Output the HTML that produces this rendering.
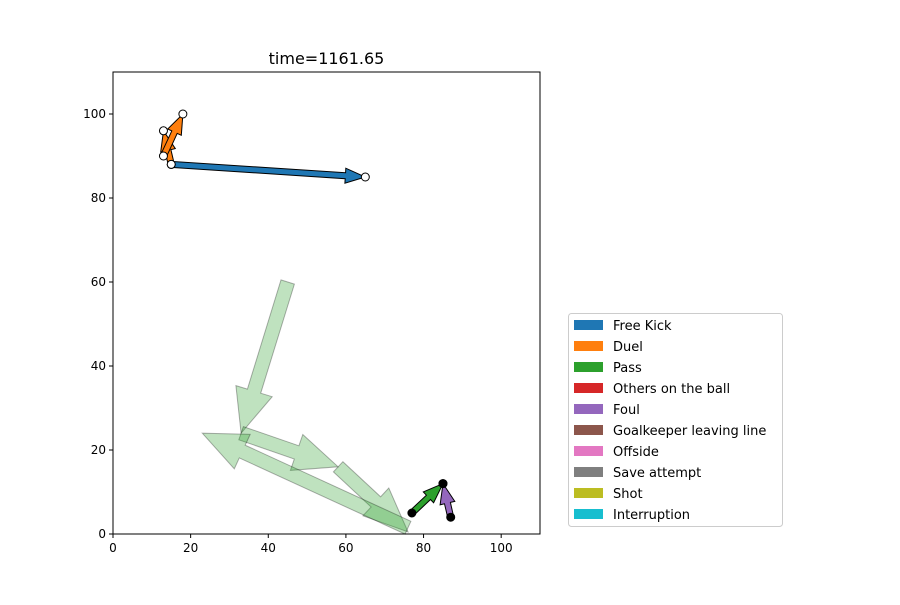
<!DOCTYPE html>
<html><head><meta charset="utf-8"><style>
body{margin:0;background:#fff;}
svg text{font-family:"DejaVu Sans","Liberation Sans",sans-serif;}
</style></head><body>
<svg id="chart" width="900" height="600" xmlns="http://www.w3.org/2000/svg">
<rect width="900" height="600" fill="#fff"/>
<text x="326.5" y="64" font-size="16" text-anchor="middle">time=1161.65</text>
<g id="faded"></g>
<g id="solid"></g>
<g id="axes"></g>
<g id="legend"></g>
</svg>
<script>
// data
const fadedStartX=[45,33,58,76];
const fadedStartY=[60,24,16,1.5];
const fadedEndX=[33,58,76,23];
const fadedEndY=[24,16,0.5,24];
const solidType=["Free Kick","Duel","Duel","Pass","Foul"];
const solidStartX=[15,15,13,77,87];
const solidStartY=[88,88,90,5,4];
const solidEndX=[65,13,18,85,85];
const solidEndY=[85,96,100,12,12];
const solidHollow=[true,true,true,false,false];
const xTicks=[0,20,40,60,80,100];
const yTicks=[0,20,40,60,80,100];
const legendLabels=["Free Kick","Duel","Pass","Others on the ball","Foul","Goalkeeper leaving line","Offside","Save attempt","Shot","Interruption"];
const legendColors=["#1f77b4","#ff7f0e","#2ca02c","#d62728","#9467bd","#8c564b","#e377c2","#7f7f7f","#bcbd22","#17becf"];

const X0=113,X1=540,Y0=534,Y1=72;
const sx=v=>X0+(v/110)*(X1-X0);
const sy=v=>Y0-(v/110)*(Y0-Y1);
const NS="http://www.w3.org/2000/svg";
function mk(tag,attrs,parent){const e=document.createElementNS(NS,tag);for(const k in attrs)e.setAttribute(k,attrs[k]);parent.appendChild(e);return e;}
function arrowPts(x1,y1,x2,y2,w,hw,hl){
 const dx=x2-x1,dy=y2-y1,L=Math.hypot(dx,dy)||1,ux=dx/L,uy=dy/L,px=-uy,py=ux;
 const bx=x2-ux*hl,by=y2-uy*hl;
 const p=[[x1+px*w/2,y1+py*w/2],[bx+px*w/2,by+py*w/2],[bx+px*hw/2,by+py*hw/2],[x2,y2],[bx-px*hw/2,by-py*hw/2],[bx-px*w/2,by-py*w/2],[x1-px*w/2,y1-py*w/2]];
 return p.map(q=>q[0].toFixed(1)+","+q[1].toFixed(1)).join(" ");
}
const fg=document.getElementById('faded');
for(let i=0;i<fadedStartX.length;i++){
 const e=mk('polygon',{points:arrowPts(sx(fadedStartX[i]),sy(fadedStartY[i]),sx(fadedEndX[i]),sy(fadedEndY[i]),14,38,44),fill:"#2ca02c","fill-opacity":"0.3",stroke:"#000","stroke-opacity":"0.3","stroke-width":"1"},fg);
 
 
}
const sg=document.getElementById('solid');
const colorOf=t=>legendColors[legendLabels.indexOf(t)];
for(let i=0;i<solidStartX.length;i++){
 const e=mk('polygon',{points:arrowPts(sx(solidStartX[i]),sy(solidStartY[i]),sx(solidEndX[i]),sy(solidEndY[i]),6,15,20),fill:colorOf(solidType[i]),stroke:"#000","stroke-width":"1"},sg);
 
 
}
for(let i=0;i<solidStartX.length;i++){
 [[solidStartX[i],solidStartY[i]],[solidEndX[i],solidEndY[i]]].forEach(p=>{
  const c=mk('circle',{cx:sx(p[0]),cy:sy(p[1]),r:4,fill:solidHollow[i]?"#fff":"#000",stroke:"#000","stroke-width":"1"},sg);
  
  
 });
}
const ag=document.getElementById('axes');
const fr=mk('rect',{x:X0,y:Y1,width:X1-X0,height:Y0-Y1,fill:"none",stroke:"#000","stroke-width":"1"},ag);


xTicks.forEach(t=>{
 mk('line',{x1:sx(t),x2:sx(t),y1:Y0,y2:Y0+4,stroke:"#000"},ag);
 const tx=mk('text',{x:sx(t),y:Y0+18,"font-size":"12","text-anchor":"middle"},ag);tx.textContent=t;
 
 
});
yTicks.forEach(t=>{
 mk('line',{x1:X0-4,x2:X0,y1:sy(t),y2:sy(t),stroke:"#000"},ag);
 const tx=mk('text',{x:X0-7,y:sy(t)+4,"font-size":"12","text-anchor":"end"},ag);tx.textContent=t;
 
 
});
const lg=document.getElementById('legend');
const box=mk('rect',{x:568.5,y:313.5,width:214,height:213,rx:3,fill:"#fff",stroke:"#ccc"},lg);


legendLabels.forEach((l,i)=>{
 const y=320+i*21;
 const r=mk('rect',{x:574,y:y,width:29,height:10,fill:legendColors[i]},lg);
 
 
 const t=mk('text',{x:613,y:y+10,"font-size":"13"},lg);t.textContent=l;
 
 
});
</script>
</body></html>
